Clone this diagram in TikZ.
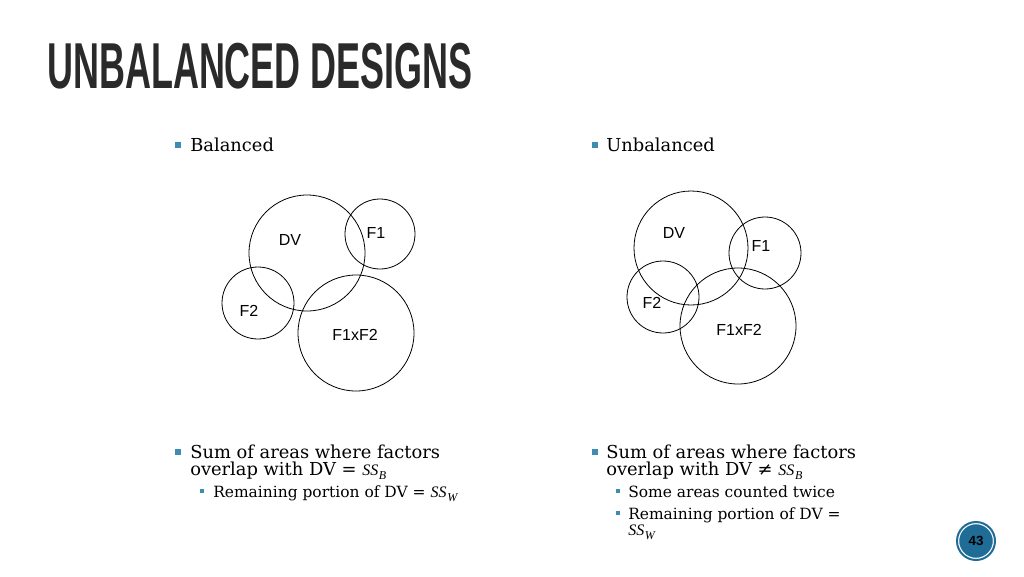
\documentclass[tikz,border=0pt]{standalone}
\usepackage{fontspec}
\setmainfont{DejaVu Serif}
\newfontfamily\lsans{Liberation Sans}
\newfontfamily\lserif{Liberation Serif}
\usepackage{graphicx}
\definecolor{bul}{HTML}{3E8DB0}
\definecolor{pgc}{HTML}{1F6D97}
\definecolor{ttl}{HTML}{2A2A2A}
\newcommand{\SSx}[1]{{\lserif\itshape\large SS\kern0.5pt\raisebox{-0.25em}{\small #1}}}
\begin{document}
\begin{tikzpicture}[x=0.75pt,y=-0.75pt,
  circ/.style={draw,line width=0.6pt},
  lab/.style={font=\lsans\fontsize{12}{14}\selectfont},
  txt/.style={anchor=base west,inner sep=0,font=\fontsize{13.4}{13}\selectfont},
  stxt/.style={anchor=base west,inner sep=0,font=\fontsize{11.6}{12}\selectfont},
  bl/.style={fill=bul,minimum size=4pt,inner sep=0}]
\useasboundingbox (0,0) rectangle (1024,576);
\node[anchor=south west,inner sep=0,text=ttl] (title) at (47,89) {\resizebox{319pt}{34pt}{\lsans\bfseries UNBALANCED DESIGNS}};
% headers
\node[bl] (b1) at (178,145) {}; \node[txt] (t1) at (190,151) {Balanced};
\node[bl] (b2) at (595,145) {}; \node[txt] (t2) at (606,151) {Unbalanced};
% balanced circles
\draw[circ] (307,253) circle (58);
\draw[circ] (380,234) circle (35);
\draw[circ] (258,303) circle (36);
\draw[circ] (356,333) circle (58);
\node[lab] (l1) at (290,240) {DV};
\node[lab] (l2) at (376,233) {F1};
\node[lab] (l3) at (249,311) {F2};
\node[lab] (l4) at (355,335) {F1xF2};
% unbalanced circles
\draw[circ] (691,248) circle (57);
\draw[circ] (765,253) circle (36);
\draw[circ] (663,297) circle (36);
\draw[circ] (738,326) circle (58);
\node[lab] (m1) at (674,233) {DV};
\node[lab] (m2) at (761,246) {F1};
\node[lab] (m3) at (652,303) {F2};
\node[lab] (m4) at (739,330) {F1xF2};
% bottom text left
\node[bl] (b3) at (178,452) {};
\node[txt] (t3) at (190,458) {Sum of areas where factors};
\node[txt] (t4) at (190,475) {overlap with DV = \SSx{B}};
\node[bl,minimum size=3.5pt] (b4) at (202,491) {};
\node[stxt] (t5) at (213,497) {Remaining portion of DV = \SSx{W}};
% bottom text right
\node[bl] (b5) at (595,452) {};
\node[txt] (t6) at (606,458) {Sum of areas where factors};
\node[txt] (t7) at (606,475) {overlap with DV ≠ \SSx{B}};
\node[bl,minimum size=3.5pt] (b6) at (618,491) {};
\node[stxt] (t8) at (628,497) {Some areas counted twice};
\node[bl,minimum size=3.5pt] (b7) at (618,513) {};
\node[stxt] (t9) at (628,519) {Remaining portion of DV =};
\node[stxt] (t10) at (628,535) {\SSx{W}};
% page number
\node[circle,fill=pgc,draw=white,line width=0.8pt,minimum size=26pt,inner sep=0,
  font=\lsans\bfseries\fontsize{10}{10}\selectfont] (pg) at (976,541) {43};
\draw[pgc,line width=1.5pt] (pg) circle (19);
\end{tikzpicture}
\end{document}
